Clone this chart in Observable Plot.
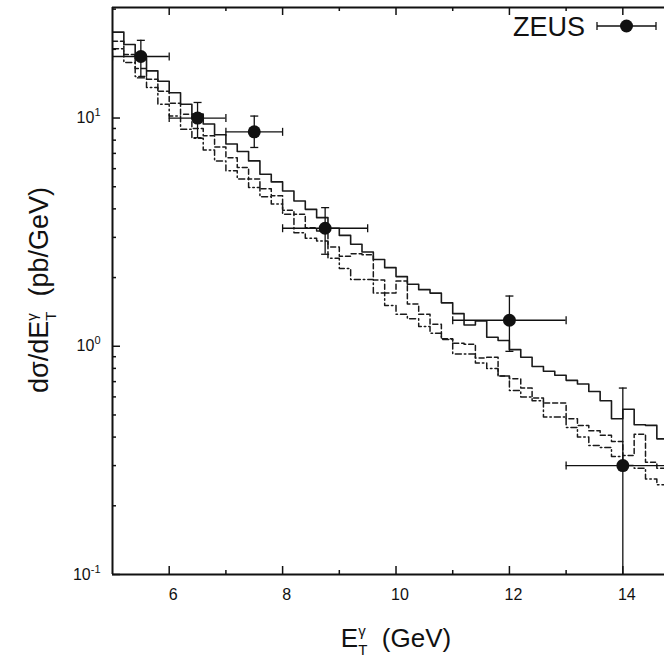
<!DOCTYPE html>
<html><head><meta charset="utf-8">
<script src="https://cdn.jsdelivr.net/npm/d3@7"></script>
<script src="https://cdn.jsdelivr.net/npm/@observablehq/plot@0.6"></script>
<style>body{margin:0;background:#fff} #chart svg{display:block;overflow:hidden}</style>
</head><body><div id="chart"></div>
<script>
// ---- data ----
const binStart = 5.0, binWidth = 0.2;
const solid = [23.8,21.0,18.3,16.1,14.5,12.9,11.5,10.4,9.41,8.45,7.69,7.13,6.49,5.67,5.25,4.79,4.33,3.98,3.66,3.29,3.06,2.80,2.59,2.40,2.21,2.02,1.87,1.77,1.71,1.55,1.39,1.24,1.29,1.095,1.06,0.967,0.895,0.815,0.777,0.746,0.709,0.683,0.634,0.577,0.481,0.53,0.453,0.45,0.393];
const dashed = [21.7,19.0,16.5,14.8,13.1,11.6,10.4,9.0,8.37,7.47,6.7,6.07,5.4,4.9,4.56,3.94,3.79,3.31,3.2,2.72,2.48,2.54,2.52,1.95,1.71,1.93,1.53,1.38,1.25,1.08,1.03,1.02,0.889,0.895,0.74,0.72,0.656,0.593,0.564,0.564,0.481,0.45,0.426,0.407,0.383,0.332,0.412,0.31,0.292];
const dashdot = [20.1,17.5,15.2,13.6,11.5,10.2,8.94,8.16,7.24,6.49,5.87,5.4,4.96,4.52,4.2,3.79,3.14,2.97,2.89,2.43,2.19,1.96,1.96,1.71,1.51,1.38,1.32,1.22,1.14,1.07,0.925,0.925,0.845,0.80,0.74,0.64,0.60,0.577,0.49,0.49,0.441,0.40,0.367,0.36,0.329,0.30,0.292,0.262,0.247];
const zeusX     = [5.5, 6.5, 7.5, 8.75, 12, 14];
const zeusY     = [18.6, 10.0, 8.7, 3.29, 1.30, 0.30];
const zeusYLow  = [15.0, 8.2, 7.43, 2.53, 0.95, 0.1];
const zeusYHigh = [21.9, 11.7, 10.2, 4.05, 1.66, 0.656];
const zeusXLow  = [5, 6, 7, 8, 11, 13];
const zeusXHigh = [6, 7, 8, 9.5, 13, 15];
const xMajorTicks = [6, 8, 10, 12, 14];
const xMinorTicks = [7, 9, 11, 13];
const yMajorTicks = [0.1, 1, 10];
const yExponents  = ["-1", "0", "1"];
const yMinorTicks = [0.2,0.3,0.4,0.5,0.6,0.7,0.8,0.9,2,3,4,5,6,7,8,9,20,30];

// ---- layout ----
const W = 664, H = 661, mT = 7, mB = 87, mL = 112, mR = 0;
const plotH = H - mT - mB, plotW = W - mL - mR;
const xDomain = [5, 14.735], yDomain = [0.1, 30.5];
const font = "'Liberation Sans', Arial, Helvetica, sans-serif";

function steps(vals) {
  const pts = vals.map((v, i) => ({x: binStart + i * binWidth, y: v}));
  pts.push({x: binStart + vals.length * binWidth, y: vals[vals.length - 1]});
  return pts;
}
const zeus = zeusX.map((x, i) => ({x, y: zeusY[i], lo: zeusYLow[i], hi: zeusYHigh[i], xl: zeusXLow[i], xh: zeusXHigh[i]}));
const hcap = {draw(c, s) { const r = Math.sqrt(s / Math.PI); c.moveTo(-r, 0); c.lineTo(r, 0); }};
const vcap = {draw(c, s) { const r = Math.sqrt(s / Math.PI); c.moveTo(0, -r); c.lineTo(0, r); }};
const ink = "#111";

const plot = Plot.plot({
  width: W, height: H,
  marginTop: mT, marginBottom: mB, marginLeft: mL, marginRight: mR,
  style: {fontFamily: font, fontSize: "16px", color: ink, background: "#fff"},
  x: {domain: xDomain},
  y: {type: "log", domain: yDomain},
  marks: [
    // histograms
    Plot.line(steps(solid), {x: "x", y: "y", curve: "step-after", stroke: "#1a1a1a", strokeWidth: 1.6, clip: true}),
    Plot.line(steps(dashed), {x: "x", y: "y", curve: "step-after", stroke: "#1a1a1a", strokeWidth: 1.5, strokeDasharray: "5,3", clip: true}),
    Plot.line(steps(dashdot), {x: "x", y: "y", curve: "step-after", stroke: "#1a1a1a", strokeWidth: 1.5, strokeDasharray: "6,3,1.5,3", clip: true}),
    // ZEUS error bars
    Plot.ruleX(zeus, {x: "x", y1: "lo", y2: "hi", stroke: ink, strokeWidth: 1.3, clip: true}),
    Plot.ruleY(zeus, {y: "y", x1: "xl", x2: "xh", stroke: ink, strokeWidth: 1.3, clip: true}),
    Plot.dot(zeus, {x: "x", y: "hi", symbol: hcap, r: 4, stroke: ink, fill: "none", strokeWidth: 1.3}),
    Plot.dot(zeus.filter(d => d.lo > yDomain[0]), {x: "x", y: "lo", symbol: hcap, r: 4, stroke: ink, fill: "none", strokeWidth: 1.3}),
    Plot.dot(zeus, {x: "xl", y: "y", symbol: vcap, r: 4, stroke: ink, fill: "none", strokeWidth: 1.3, clip: true}),
    Plot.dot(zeus, {x: "xh", y: "y", symbol: vcap, r: 4, stroke: ink, fill: "none", strokeWidth: 1.3, clip: true}),
    Plot.dot(zeus, {x: "x", y: "y", r: 6.5, fill: ink, stroke: "none"}),
    // frame
    Plot.ruleX([xDomain[0]], {stroke: ink, strokeWidth: 2}),
    Plot.ruleY([yDomain[0]], {stroke: ink, strokeWidth: 2}),
    Plot.ruleY([yDomain[1]], {stroke: ink, strokeWidth: 2}),
    // inward ticks
    Plot.ruleX(xMajorTicks, {x: d => d, insetTop: plotH - 8, stroke: ink, strokeWidth: 1.5}),
    Plot.ruleX(xMinorTicks, {x: d => d, insetTop: plotH - 4, stroke: ink, strokeWidth: 1.5}),
    Plot.ruleX(xMajorTicks, {x: d => d, insetBottom: plotH - 8, stroke: ink, strokeWidth: 1.5}),
    Plot.ruleX(xMinorTicks, {x: d => d, insetBottom: plotH - 4, stroke: ink, strokeWidth: 1.5}),
    Plot.ruleY(yMajorTicks, {y: d => d, insetRight: plotW - 8, stroke: ink, strokeWidth: 1.5}),
    Plot.ruleY(yMinorTicks, {y: d => d, insetRight: plotW - 4, stroke: ink, strokeWidth: 1.5}),
    // tick labels
    Plot.axisX({ticks: xMajorTicks, tickSize: 0, tickPadding: 14, dx: 4, label: null, fontSize: 16, tickFormat: d => String(d)}),
    Plot.axisY({ticks: yMajorTicks, tickSize: 0, tickPadding: 12, label: null, fontSize: 16, tickFormat: () => "10"})
  ]
});

// superscript exponents on the y tick labels
const svg = d3.select(plot);
svg.selectAll('g[aria-label="y-axis tick label"] text').each(function(d, i) {
  d3.select(this).append("tspan").attr("dy", -7).attr("font-size", 11).text(yExponents[i]);
});

// axis titles
const xt = svg.append("text").attr("x", 396).attr("y", 647).attr("text-anchor", "middle")
  .attr("font-family", font).attr("font-size", 26).attr("fill", ink);
xt.append("tspan").text("E");
xt.append("tspan").attr("font-size", 15).attr("dy", -11).text("γ");
xt.append("tspan").attr("font-size", 15).attr("dx", -7.5).attr("dy", 19).text("T");
xt.append("tspan").attr("dy", -8).text("  (GeV)");

const yt = svg.append("text").attr("transform", "translate(48,290) rotate(-90)").attr("text-anchor", "middle")
  .attr("font-family", font).attr("font-size", 27).attr("fill", ink);
yt.append("tspan").text("dσ/dE");
yt.append("tspan").attr("font-size", 15).attr("dy", -11).text("γ");
yt.append("tspan").attr("font-size", 15).attr("dx", -7.5).attr("dy", 19).text("T");
yt.append("tspan").attr("dy", -8).text("  (pb/GeV)");

// legend
const lg = svg.append("g").attr("fill", ink).attr("stroke", ink);
lg.append("text").attr("x", 585).attr("y", 36).attr("text-anchor", "end").attr("stroke", "none").attr("font-family", font).attr("font-size", 27).text("ZEUS");
lg.append("line").attr("x1", 597).attr("x2", 656).attr("y1", 26).attr("y2", 26).attr("stroke-width", 1.3);
lg.append("line").attr("x1", 597).attr("x2", 597).attr("y1", 22).attr("y2", 30).attr("stroke-width", 1.3);
lg.append("line").attr("x1", 656).attr("x2", 656).attr("y1", 22).attr("y2", 30).attr("stroke-width", 1.3);
lg.append("circle").attr("cx", 626.5).attr("cy", 26).attr("r", 6.5).attr("stroke", "none");

document.getElementById("chart").appendChild(plot);
</script>
</body></html>
